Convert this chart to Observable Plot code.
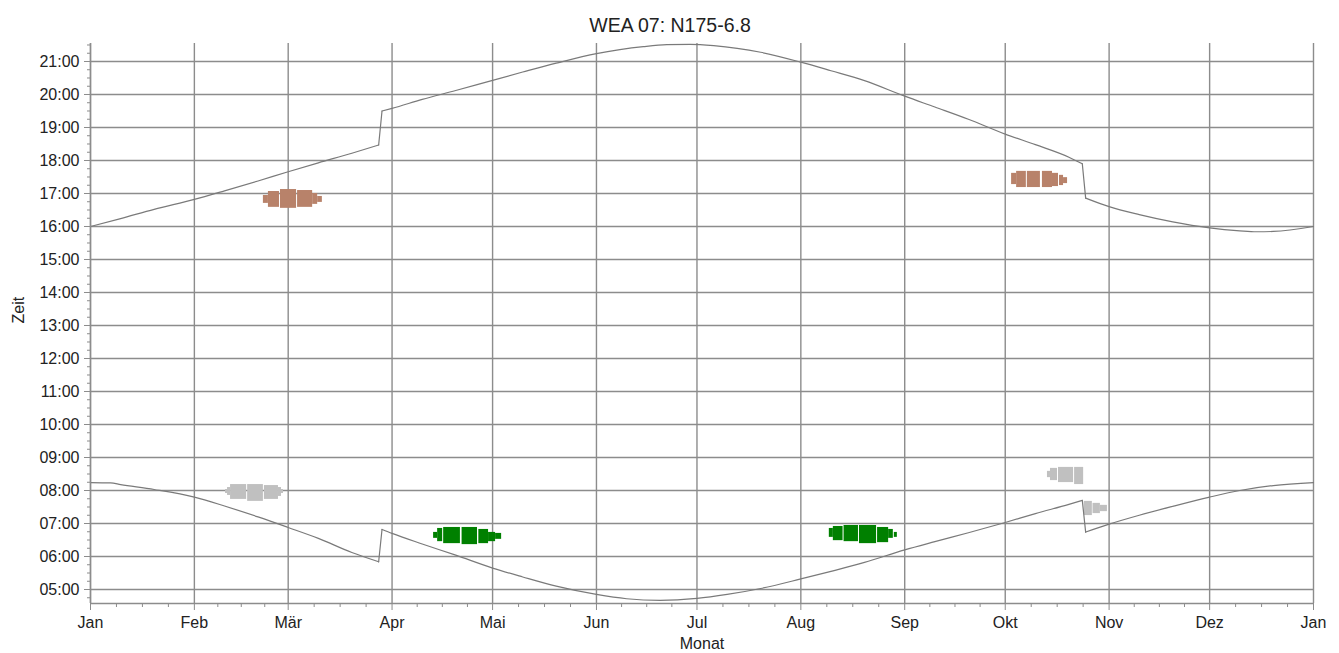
<!DOCTYPE html>
<html>
<head>
<meta charset="utf-8">
<script src="https://cdn.jsdelivr.net/npm/d3@7"></script>
<script src="https://cdn.jsdelivr.net/npm/@observablehq/plot@0.6"></script>
<style>
  html, body { margin: 0; padding: 0; background: #fff; }
</style>
</head>
<body>
<div id="chart"></div>
<script>
// ---- data ----
const titleText = "WEA 07: N175-6.8";
const xLabel = "Monat";
const yLabel = "Zeit";
const monthLabels = ["Jan","Feb","Mär","Apr","Mai","Jun","Jul","Aug","Sep","Okt","Nov","Dez"];
const hourTicks = [5,6,7,8,9,10,11,12,13,14,15,16,17,18,19,20,21];
const dstStart = "2015-03-29";
const dstEnd = "2015-10-25";

// sunset (hours, local time)
const sunsetDates = ["2015-01-01","2015-01-10","2015-01-20","2015-02-01","2015-02-10","2015-02-20","2015-03-01","2015-03-10","2015-03-20","2015-03-28","2015-03-29","2015-04-01","2015-04-10","2015-04-20","2015-05-01","2015-05-10","2015-05-20","2015-06-01","2015-06-08","2015-06-15","2015-06-22","2015-06-29","2015-07-06","2015-07-13","2015-07-20","2015-08-01","2015-08-10","2015-08-20","2015-09-01","2015-09-10","2015-09-20","2015-10-01","2015-10-10","2015-10-20","2015-10-24","2015-10-25","2015-11-01","2015-11-10","2015-11-20","2015-12-01","2015-12-10","2015-12-15","2015-12-20","2016-01-01"];
const sunsetHours = [16.00,16.24,16.52,16.82,17.08,17.38,17.66,17.93,18.22,18.47,19.50,19.58,19.85,20.12,20.43,20.68,20.95,21.24,21.36,21.45,21.51,21.52,21.48,21.40,21.28,20.98,20.72,20.42,19.95,19.62,19.25,18.80,18.48,18.10,17.90,16.86,16.60,16.36,16.14,15.96,15.87,15.84,15.85,16.00];

// sunrise (hours, local time)
const sunriseDates = ["2015-01-01","2015-01-07","2015-01-10","2015-01-20","2015-02-01","2015-02-10","2015-02-20","2015-03-01","2015-03-10","2015-03-20","2015-03-28","2015-03-29","2015-04-01","2015-04-10","2015-04-20","2015-05-01","2015-05-10","2015-05-20","2015-06-01","2015-06-10","2015-06-20","2015-07-01","2015-07-10","2015-07-20","2015-08-01","2015-08-10","2015-08-20","2015-09-01","2015-09-10","2015-09-20","2015-10-01","2015-10-10","2015-10-20","2015-10-24","2015-10-25","2015-11-01","2015-11-10","2015-11-20","2015-12-01","2015-12-10","2015-12-20","2016-01-01"];
const sunriseHours = [8.24,8.23,8.18,8.03,7.80,7.53,7.20,6.88,6.55,6.12,5.84,6.82,6.70,6.38,6.04,5.65,5.38,5.10,4.85,4.72,4.67,4.73,4.85,5.03,5.32,5.55,5.82,6.20,6.45,6.72,7.03,7.30,7.58,7.70,6.74,6.98,7.25,7.52,7.80,8.00,8.15,8.24];

// shadow periods: blob id, day-of-year start/end, time top/bottom
const blobIds    = ["A","B","C","D","E","F","G"];
const blobColors = ["#b8826a","#b8826a","#c0c0c0","#008000","#008000","#c0c0c0","#c0c0c0"];
const colBlob  = ["A","A","A","A","A","A", "B","B","B","B","B","B","B", "C","C","C","C","C","C","C", "D","D","D","D","D","D","D", "E","E","E","E","E","E","E", "F","F","F","F", "G","G","G"];
const colStart = [51.6,53.1,56.7,61.8,66.3,67.8, 274.9,276.4,279.6,284.1,287.1,289.2,290.4, 40.3,40.9,41.8,46.9,51.9,56.1,57.0, 102.4,103.6,105.4,110.9,115.9,118.8,120.9, 220.5,221.7,224.9,229.5,234.9,238.2,239.9, 285.6,286.5,288.9,293.7, 296.6,299.2,301.4];
const colEnd   = [53.1,56.4,61.5,66.3,67.8,69.2, 276.4,279.3,283.5,287.1,288.9,290.4,291.6, 40.9,41.8,46.6,51.6,56.1,57.0,57.6, 103.6,105.1,110.4,115.5,118.8,120.9,122.7, 221.7,224.6,229.2,234.6,238.2,239.6,240.8, 286.5,288.6,293.4,296.4, 299.0,301.4,303.5];
const colTop   = [16.94,17.06,17.12,17.09,17.00,16.91, 17.61,17.67,17.67,17.67,17.61,17.55,17.48, 8.03,8.09,8.18,8.18,8.15,8.09,8.03, 6.73,6.85,6.88,6.88,6.82,6.73,6.70, 6.85,6.91,6.94,6.94,6.88,6.82,6.73, 8.58,8.67,8.70,8.70, 7.67,7.61,7.55];
const colBottom= [16.70,16.58,16.55,16.58,16.67,16.73, 17.27,17.18,17.18,17.18,17.21,17.24,17.30, 7.91,7.85,7.73,7.67,7.73,7.82,7.91, 6.55,6.45,6.39,6.36,6.39,6.45,6.52, 6.58,6.48,6.45,6.39,6.42,6.55,6.58, 8.39,8.30,8.24,8.18, 7.24,7.30,7.36];

// ---- build ----
const t0 = Date.UTC(2015, 0, 1);
const t1 = Date.UTC(2016, 0, 1);
const dayToDate = d => new Date(t0 + d * 864e5);
const dS = new Date(dstStart + "T00:00Z"), dE = new Date(dstEnd + "T00:00Z");
const segOf = d => d < dS ? "w1" : d < dE ? "s" : "w2";
function build(name, dates, hours) {
  return dates.map((d, i) => {
    const date = new Date(d + "T00:00Z");
    return {series: name, seg: name + segOf(date), date, h: hours[i]};
  });
}
const sunset = build("set", sunsetDates, sunsetHours);
const sunrise = build("rise", sunriseDates, sunriseHours);
const allPts = sunset.concat(sunrise);
// jump connectors: last point before and first point after each DST switch
const jumps = [];
for (const arr of [sunset, sunrise]) {
  for (let i = 1; i < arr.length; i++) {
    if (arr[i].seg !== arr[i - 1].seg) {
      jumps.push({j: arr[i].seg + "j", date: arr[i - 1].date, h: arr[i - 1].h});
      jumps.push({j: arr[i].seg + "j", date: arr[i].date, h: arr[i].h});
    }
  }
}
const colorOf = Object.fromEntries(blobIds.map((b, i) => [b, blobColors[i]]));
const cols = colBlob.map((b, i) => ({
  x1: dayToDate(colStart[i]), x2: dayToDate(colEnd[i]),
  y1: colBottom[i], y2: colTop[i], color: colorOf[b]
}));

const monthTicks = d3.utcMonth.range(new Date(t0), new Date(t1 + 1));
const minorX = [];
for (let i = 0; i < 12; i++) {
  const a = +monthTicks[i], b = +monthTicks[i + 1];
  for (let k = 1; k < 4; k++) minorX.push(new Date(a + (b - a) * k / 4));
}
const yMin = 4.576, yMax = 21.545;
const minorY = d3.range(4.75, 21.6, 0.25).filter(v => v % 1 !== 0);
const fmtHour = h => String(h).padStart(2, "0") + ":00";

const gridColor = "#8c8c8c";
const lineColor = "#7a7a7a";

const chart = Plot.plot({
  width: 1339,
  height: 653,
  marginLeft: 90,
  marginRight: 26,
  marginTop: 43,
  marginBottom: 50,
  style: {fontFamily: "'Liberation Sans', Arial, sans-serif", fontSize: "16px", color: "#222", background: "#fff"},
  x: {type: "utc", domain: [new Date(t0), new Date(t1)], label: null},
  y: {domain: [yMin, yMax], label: null},
  marks: [
    Plot.gridX(monthTicks, {stroke: gridColor, strokeOpacity: 1, strokeWidth: 1.4}),
    Plot.gridY(hourTicks, {stroke: gridColor, strokeOpacity: 1, strokeWidth: 1.4}),
    Plot.rect(cols, {x1: "x1", x2: "x2", y1: "y1", y2: "y2", fill: "color"}),
    Plot.line(allPts, {x: "date", y: "h", z: "seg", stroke: lineColor, strokeWidth: 1.2, curve: "monotone-x"}),
    Plot.line(jumps, {x: "date", y: "h", z: "j", stroke: lineColor, strokeWidth: 1.2}),
    Plot.ruleX([new Date(t0)], {stroke: gridColor, strokeWidth: 1.4}),
    Plot.ruleY([yMin], {stroke: gridColor, strokeWidth: 1.4}),
    // y axis
    Plot.axisY(hourTicks, {tickSize: 6, text: null, stroke: gridColor, label: null}),
    Plot.axisY(minorY, {tickSize: 3, text: null, stroke: gridColor, label: null}),
    Plot.axisY(hourTicks, {tickSize: 0, tickPadding: 11, tickFormat: fmtHour, fill: "#222", fontSize: 16, label: null}),
    // x axis
    Plot.axisX(monthTicks, {tickSize: 7, text: null, stroke: gridColor, label: null}),
    Plot.axisX(minorX, {tickSize: 4, text: null, stroke: gridColor, label: null}),
    Plot.axisX(monthTicks, {tickSize: 0, tickPadding: 13, tickFormat: d => monthLabels[d.getUTCMonth()], fill: "#222", fontSize: 16, label: null}),
    // titles
    Plot.text([titleText], {frameAnchor: "top", dx: -32, dy: -25, fontSize: 19.5, fill: "#222"}),
    Plot.text([xLabel], {frameAnchor: "bottom", dy: 45, fontSize: 16, fill: "#222"}),
    Plot.text([yLabel], {frameAnchor: "left", dx: -72, rotate: -90, fontSize: 16, fill: "#222"})
  ]
});
document.getElementById("chart").appendChild(chart);
</script>
</body>
</html>
